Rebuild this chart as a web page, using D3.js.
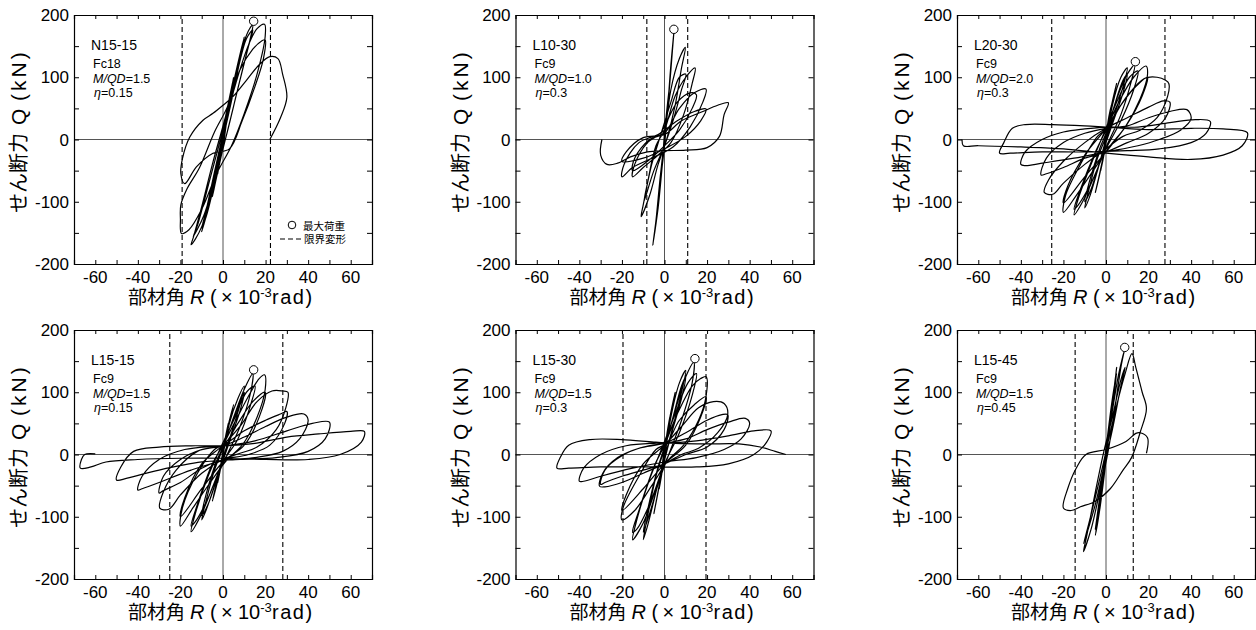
<!DOCTYPE html>
<html><head><meta charset="utf-8">
<script src="https://cdn.jsdelivr.net/npm/d3@7"></script>
<style>
body{margin:0;background:#fff}
svg text{font-family:"Liberation Sans",Arial,"Noto Sans CJK JP",sans-serif;fill:#000}
.cjk{font-family:"Noto Sans CJK JP","Liberation Sans",sans-serif}
</style>
</head><body><svg id="chart" width="1256" height="630"></svg>
<script>
// ---------------- data ----------------
const specimenNames = ["N15-15","L10-30","L20-30","L15-15","L15-30","L15-45"];
const fcLabels = ["Fc18","Fc9","Fc9","Fc9","Fc9","Fc9"];
const mqdValues = ["1.5","1.0","2.0","1.5","1.5","1.5"];
const etaValues = ["0.15","0.3","0.3","0.15","0.3","0.45"];
const maxPointR = [14.4,4.4,13.8,14.4,14.3,8.8];
const maxPointQ = [190,177,125,136,154,172];
const limitNeg = [-19.2,-8.3,-25.5,-25,-19.5,-14.5];
const limitPos = [22.3,10.9,27.7,28.1,19.5,12.8];
const xTickLabels = [-60,-40,-20,0,20,40,60];
const xTickMarks = [-60,-50,-40,-30,-20,-10,0,10,20,30,40,50,60];
const yTickLabels = [-200,-100,0,100,200];
const yTickMarks = [-150,-100,-50,0,50,100,150];
const legendLabels = ["最大荷重","限界変形"];

const loopN1515 = [
[0,0],[1.2,30],[2.5,58],[1.5,38],[0,8],[-1.2,-28],[-2.5,-55],[-1.5,-35],[0,-5],
[2,45],[5,100],[3.5,75],[0,15],[-2,-38],[-5,-92],[-3.5,-68],[0,-12],
[3,60],[6.5,115],[10,165],[9,148],[6,100],[2,35],[0,5],[-3,-50],[-7,-112],[-10,-148],[-9,-135],[-6,-90],[-2,-25],[0,8],
[4,75],[8,135],[10,158],[8,128],[4,62],[0,0],[-4,-70],[-8,-125],[-10,-142],[-8,-115],[-4,-52],[0,10],
[5,92],[10,158],[12.5,178],[14,184],[13,165],[9,110],[4,40],[0,-15],[-5,-82],[-10,-140],[-13,-160],[-15,-169],[-14,-158],[-10,-108],[-5,-40],[0,22],
[6,98],[11,162],[14,176],[12,150],[7,82],[2,12],[-3,-52],[-9,-122],[-14,-156],[-12,-138],[-6,-62],[0,15],
[6,90],[12,152],[16,178],[19.5,185],[19.8,165],[16,105],[10,42],[4,-10],[-3,-55],[-10,-112],[-16,-145],[-19.5,-151],[-20,-128],[-19.8,-105],[-17,-80],[-11,-45],[-4,12],[2,52],
[8,112],[14,145],[18,158],[19.8,160],[19,130],[15,85],[9,30],[3,-15],[-4.7,-22],[-12.5,-44],[-18,-71],[-19.8,-55],[-19,-30],[-15.6,4],[-9.4,31],[-4.7,42],[0,55],[5,70],
[11,95],[17,120],[22,133],[25.8,130],[28,105],[30,68],[27,35],[22,0]
];

const loopL1030 = [
[0,0],[1,40],[2.5,90],[1.5,60],[0,10],[-1,-35],[-2.5,-80],[-1.5,-55],[0,-10],
[2,70],[4.4,172],[3,120],[1,30],[-1,-40],[-3,-110],[-5.5,-170],[-4,-130],[-2,-60],[0,0],
[3,80],[7,130],[9.8,148],[8,115],[5,55],[1,0],[-3,-40],[-7,-90],[-11,-124],[-10,-105],[-6,-40],[-2,5],
[3,60],[7,100],[10,105],[8,80],[4,30],[0,-10],[-5,-50],[-9.7,-100],[-8,-70],[-4,-10],[0,15],
[5,70],[10,100],[14.4,115],[13,90],[9,40],[3,-5],[-3,-25],[-10,-45],[-15,-60],[-14,-40],[-8,-5],[-2,10],
[6,60],[12,75],[15,72],[13,50],[7,15],[0,-10],[-8,-35],[-15,-50],[-14,-30],[-7,0],[0,10],
[7,50],[14,75],[19.5,81],[18,60],[12,20],[4,-12],[-6,-30],[-15,-45],[-20,-60],[-19,-40],[-12,-5],[-3,8],
[6,30],[14,45],[19.5,49],[17,30],[10,5],[0,-15],[-10,-30],[-20,-35],[-18,-20],[-10,3],[0,8],
[8,30],[18,45],[25,55],[30,59],[28,40],[25.8,5],[20,-13],[10,-17],[0,-18],[-8,-20],[-16,-28],[-22,-38],[-27,-40],[-30,-25],[-29.4,0]
];

const loopL2030 = [
[0,0],[1,25],[2.5,55],[1,30],[-1,-25],[-2.5,-50],[-1,-25],[0,0],
[2,45],[5,90],[3,60],[0,10],[-2,-40],[-5,-85],[-3,-55],[0,-5],
[3,55],[7,100],[10,115],[8,85],[4,40],[0,0],[-4,-50],[-8,-95],[-10,-110],[-8,-80],[-4,-30],[0,5],
[4,55],[8,95],[10,105],[8,75],[3,25],[-2,-25],[-7,-80],[-10,-100],[-8,-70],[-3,-15],[0,10],
[5,65],[10,105],[13.5,120],[12,95],[7,40],[1,-5],[-5,-55],[-11,-100],[-15,-121],[-13,-95],[-7,-40],[-1,10],
[5,60],[11,100],[15,110],[13,80],[7,30],[0,-15],[-7,-70],[-13,-105],[-15,-112],[-12,-80],[-5,-20],[0,15],
[6,60],[13,100],[18.8,118],[19.5,104],[16,65],[9,20],[2,-10],[-6,-50],[-14,-90],[-20,-117],[-19,-90],[-12,-40],[-4,5],[1,20],
[7,55],[14,85],[19.5,100],[17,70],[10,25],[0,-20],[-10,-60],[-20,-102],[-18,-75],[-10,-25],[0,18],
[10,70],[18,98],[24,100],[28,95],[29.5,90],[29,70],[24,35],[16,15],[8,5],[0,-15],[-10,-40],[-20,-70],[-25,-88],[-29,-85],[-27,-65],[-20,-35],[-10,-5],[0,18],
[10,35],[20,52],[27,62],[30,60],[28,35],[20,10],[10,-5],[0,-20],[-10,-30],[-20,-45],[-28,-55],[-30.5,-57],[-28,-30],[-20,-5],[-10,10],[0,18],
[10,22],[20,35],[30,45],[38,48],[40,34],[35,15],[25,0],[15,-10],[0,-20],[-15,-30],[-30,-38],[-38,-42],[-40,-40],[-38,-20],[-30,0],[-20,12],[-10,17],[0,20],
[15,20],[30,27],[42,32],[49,29],[47,10],[40,-5],[25,-15],[10,-18],[-10,-20],[-30,-20],[-45,-22],[-50,-22],[-48,-5],[-44,18],[-38,24],[-25,24],[-10,22],[0,20],
[20,16],[40,18],[55,17],[66.4,11],[64,-10],[55,-25],[40,-32],[20,-28],[0,-22],[-20,-15],[-40,-12],[-60,-10],[-67,-10],[-67.6,0]
];

const loopL1515 = [
[0,0],[1,25],[2.5,50],[1,25],[-1,-20],[-2.5,-45],[-1,-20],[0,0],
[2,40],[5,80],[3,50],[0,5],[-2,-35],[-5,-75],[-3,-45],[0,0],
[3,50],[7,90],[10,110],[8,80],[4,35],[0,-5],[-4,-50],[-8,-90],[-10,-105],[-8,-75],[-4,-25],[0,10],
[4,50],[8,85],[10,100],[8,70],[3,20],[-2,-30],[-7,-80],[-10,-98],[-8,-65],[-3,-10],[0,12],
[5,60],[10,105],[14,130],[13,100],[8,45],[2,0],[-4,-45],[-10,-95],[-15,-124],[-13,-95],[-7,-35],[-1,12],
[5,55],[11,100],[15,110],[13,80],[7,25],[0,-12],[-7,-70],[-13,-108],[-15,-115],[-12,-80],[-5,-15],[0,15],
[6,55],[13,100],[17,122],[19.5,128],[19.8,104],[16,60],[9,15],[2,-8],[-6,-45],[-14,-85],[-20,-115],[-19,-85],[-12,-30],[-4,8],[1,18],
[7,50],[14,85],[19.8,100],[17,60],[10,15],[0,-12],[-10,-55],[-20,-100],[-18,-70],[-10,-15],[0,15],
[8,45],[16,85],[23,102],[28,102],[30.5,100],[29.5,75],[25,40],[16,12],[8,2],[0,-8],[-10,-30],[-20,-65],[-25.5,-88],[-29.7,-86],[-28,-60],[-22,-25],[-12,5],[0,15],
[10,38],[20,55],[27,65],[30,69],[29,50],[22,15],[12,0],[0,-8],[-10,-22],[-20,-45],[-28,-58],[-30,-62],[-28,-35],[-20,-8],[-10,8],[0,14],
[10,28],[20,45],[30,60],[38,65],[40,55],[36,25],[28,5],[15,-5],[0,-10],[-15,-25],[-30,-45],[-38,-55],[-40,-57],[-38,-35],[-30,-8],[-18,8],[-5,13],[0,14],
[15,22],[30,38],[42,50],[50,52],[48,25],[40,5],[25,-5],[8,-8],[-10,-12],[-30,-25],[-45,-38],[-50,-41],[-48,-20],[-42,5],[-30,12],[-15,14],[0,14],
[15,18],[30,28],[45,33],[60,37],[66.4,37],[65,20],[55,0],[40,-8],[20,-8],[0,-6],[-20,-6],[-40,-8],[-55,-12],[-62,-20],[-67,-22],[-66.5,-8],[-65,0],[-60,1]
];

const loopL1530 = [
[0,0],[1,30],[2.5,60],[1,30],[-1,-25],[-2.5,-55],[-1,-25],[0,0],
[2,50],[5,100],[3,65],[0,10],[-2,-40],[-5,-95],[-3,-60],[0,-5],
[3,60],[7,115],[10,135],[8,100],[4,45],[0,-5],[-4,-60],[-8,-115],[-10,-137],[-8,-100],[-4,-35],[0,10],
[4,60],[8,110],[10,125],[8,90],[3,30],[-2,-35],[-7,-95],[-10,-125],[-8,-90],[-3,-20],[0,12],
[5,70],[10,125],[13.8,148],[13,115],[8,55],[2,0],[-4,-55],[-10,-110],[-15,-137],[-13,-105],[-7,-40],[-1,12],
[5,65],[11,115],[15,130],[13,95],[7,35],[0,-15],[-7,-80],[-13,-120],[-15,-125],[-12,-90],[-5,-20],[0,15],
[6,65],[13,110],[17,122],[19.5,125],[19.5,93],[16,55],[9,15],[2,-8],[-6,-50],[-14,-90],[-20,-105],[-19.5,-86],[-12,-35],[-4,8],[1,18],
[7,55],[14,80],[19.5,93],[17,60],[10,15],[0,-15],[-10,-55],[-20,-90],[-18,-65],[-10,-15],[0,15],
[8,45],[16,75],[23,85],[28,82],[29.7,64],[25,35],[16,10],[8,0],[0,-15],[-10,-30],[-20,-45],[-28,-52],[-30.5,-51],[-29,-30],[-22,-5],[-12,10],[0,18],
[10,35],[20,55],[27,64],[29.7,64],[28,40],[20,12],[10,0],[0,-15],[-10,-25],[-20,-35],[-28,-45],[-30,-48],[-28,-25],[-20,-2],[-10,12],[0,18],
[10,25],[20,40],[30,52],[38,58],[40,50],[36,25],[28,8],[15,-5],[0,-12],[-15,-22],[-30,-35],[-38,-43],[-40,-43],[-38,-22],[-30,0],[-18,14],[-5,18],[0,18],
[15,22],[30,30],[42,38],[50,38],[48,20],[42,0],[30,-15],[15,-20],[0,-20],[-15,-20],[-30,-20],[-45,-22],[-50.5,-22],[-49,-5],[-45,15],[-35,24],[-20,24],[-5,20],[5,18],
[20,17],[35,17],[45,12],[52,5],[57,0]
];

const loopL1545 = [
[0,0],[1,30],[2.5,70],[1,35],[-1,-30],[-2.5,-60],[-1,-25],[0,0],
[2,55],[5,140],[4,110],[1,30],[-2,-50],[-5,-130],[-3,-90],[0,-10],
[2,50],[5,130],[3,90],[0,10],[-3,-70],[-5,-120],[-3,-70],[0,0],
[3,70],[6,130],[8.6,167],[7,140],[4,70],[1,5],[-3,-60],[-7,-120],[-10.6,-156],[-9,-130],[-5,-60],[-1,5],
[3,60],[7,120],[9,140],[7,110],[3,40],[-1,-20],[-5,-80],[-10.5,-143],[-8,-110],[-3,-40],[0,5],
[4,65],[9,130],[12.2,162],[14,140],[17,100],[19,74],[16,35],[12,-5],[8,-25],[2,-55],[-5,-75],[-12,-84],[-16.4,-90],[-20,-86],[-18,-55],[-14,-22],[-9.4,0],[0,8],[9.4,21],[14,34],[16,35],[19.5,27],[19,2]
];

const curves = [loopN1515, loopL1030, loopL2030, loopL1515, loopL1530, loopL1545];

// ---------------- layout ----------------
const svg = d3.select("#chart");
const plotW = 298, plotH = 249;
const colLeft = [74, 515.5, 957];
const rowTop = [15, 330];

curves.forEach((data, i) => {
  const left = colLeft[i % 3], top = rowTop[Math.floor(i / 3)];
  const x = d3.scaleLinear().domain([-70, 70]).range([left, left + plotW]);
  const y = d3.scaleLinear().domain([-200, 200]).range([top + plotH, top]);
  const g = svg.append("g");
  const cx = left + plotW / 2;

  const clipId = "clip" + i;
  g.append("clipPath").attr("id", clipId).append("rect")
    .attr("x", left).attr("y", top).attr("width", plotW).attr("height", plotH);

  // zero lines
  g.append("line").attr("x1", x(-70)).attr("x2", x(70)).attr("y1", y(0)).attr("y2", y(0))
    .attr("stroke", "#555").attr("stroke-width", 1);
  g.append("line").attr("x1", x(0)).attr("x2", x(0)).attr("y1", y(-200)).attr("y2", y(200))
    .attr("stroke", "#555").attr("stroke-width", 1);

  // limit deformation lines
  [limitNeg[i], limitPos[i]].forEach(v => {
    g.append("line").attr("x1", x(v)).attr("x2", x(v)).attr("y1", y(-200)).attr("y2", y(200))
      .attr("stroke", "#000").attr("stroke-width", 1.1).attr("stroke-dasharray", "5,3");
  });

  // hysteresis curve
  const line = d3.line().x(d => x(d[0])).y(d => y(d[1])).curve(d3.curveCatmullRom.alpha(0.5));
  g.append("path").datum(data).attr("d", line).attr("fill", "none")
    .attr("stroke", "#000").attr("stroke-width", 1.2).attr("stroke-linejoin", "round")
    .attr("clip-path", `url(#${clipId})`);

  // max load marker
  g.append("circle").attr("cx", x(maxPointR[i])).attr("cy", y(maxPointQ[i])).attr("r", 4.2)
    .attr("fill", "#fff").attr("stroke", "#000").attr("stroke-width", 1);

  // axes (ticks inward)
  const axB = d3.axisBottom(x).tickValues(xTickMarks).tickSize(-4).tickFormat("");
  const axT = d3.axisTop(x).tickValues(xTickMarks).tickSize(-4).tickFormat("");
  const axL = d3.axisLeft(y).tickValues(yTickMarks).tickSize(-5).tickFormat("");
  const axR = d3.axisRight(y).tickValues(yTickMarks).tickSize(-5).tickFormat("");
  [[axB, `translate(0,${top + plotH})`], [axT, `translate(0,${top})`],
   [axL, `translate(${left},0)`], [axR, `translate(${left + plotW},0)`]].forEach(([ax, tr]) => {
    const a = g.append("g").attr("transform", tr).call(ax);
    a.select(".domain").attr("stroke", "#000").attr("stroke-width", 1.2);
    a.selectAll(".tick line").attr("stroke", "#000");
  });

  // tick labels
  g.selectAll(".xl").data(xTickLabels).enter().append("text")
    .attr("x", d => x(d)).attr("y", top + plotH + 19).attr("text-anchor", "middle")
    .attr("font-size", 17).text(d => d);
  g.selectAll(".yl").data(yTickLabels).enter().append("text")
    .attr("x", left - 5).attr("y", d => y(d)).attr("dy", "0.36em").attr("text-anchor", "end")
    .attr("font-size", 17).text(d => d);

  // x axis title
  const xt = g.append("text").attr("y", top + plotH + 40).attr("font-size", 20);
  xt.append("tspan").attr("class", "cjk").attr("font-size", 19).attr("x", cx - 95).text("部材角");
  xt.append("tspan").attr("x", cx - 33).attr("font-style", "italic").text("R");
  xt.append("tspan").attr("x", cx - 13).text("(");
  xt.append("tspan").attr("x", cx - 2).text("×");
  xt.append("tspan").attr("x", cx + 15).text("10");
  xt.append("tspan").attr("font-size", 13).attr("dy", -7).text("-3");
  xt.append("tspan").attr("x", cx + 49).attr("dy", 7).attr("letter-spacing", 1.5).text("rad)");

  // y axis title
  const yt = g.append("text").attr("transform", `translate(${left - 48},${top + 103}) rotate(-90)`)
    .attr("font-size", 21);
  yt.append("tspan").attr("class", "cjk").attr("font-size", 20).attr("x", -95).text("せん断力");
  yt.append("tspan").attr("x", -7).text("Q");
  yt.append("tspan").attr("x", 17).attr("letter-spacing", 3).text("(kN)");

  // annotations
  g.append("text").attr("x", left + 17).attr("y", top + 35).attr("font-size", 14).text(specimenNames[i]);
  g.append("text").attr("x", left + 19).attr("y", top + 53).attr("font-size", 12.5).text(fcLabels[i]);
  const m = g.append("text").attr("x", left + 19).attr("y", top + 68).attr("font-size", 12.5);
  m.append("tspan").attr("font-style", "italic").text("M/QD");
  m.append("tspan").text("=" + mqdValues[i]);
  const e = g.append("text").attr("x", left + 20).attr("y", top + 82).attr("font-size", 12.5);
  e.append("tspan").attr("font-style", "italic").text("η");
  e.append("tspan").text("=" + etaValues[i]);

  // legend (first panel only)
  if (i === 0) {
    g.append("circle").attr("cx", left + 218).attr("cy", top + 210).attr("r", 3.8)
      .attr("fill", "#fff").attr("stroke", "#000");
    g.append("text").attr("class", "cjk").attr("x", left + 229).attr("y", top + 215)
      .attr("font-size", 10.5).text(legendLabels[0]);
    g.append("line").attr("x1", left + 206).attr("x2", left + 230).attr("y1", top + 224).attr("y2", top + 224)
      .attr("stroke", "#000").attr("stroke-width", 1.1).attr("stroke-dasharray", "5,3");
    g.append("text").attr("class", "cjk").attr("x", left + 230).attr("y", top + 228)
      .attr("font-size", 10.5).text(legendLabels[1]);
  }
});
</script>
</body></html>
